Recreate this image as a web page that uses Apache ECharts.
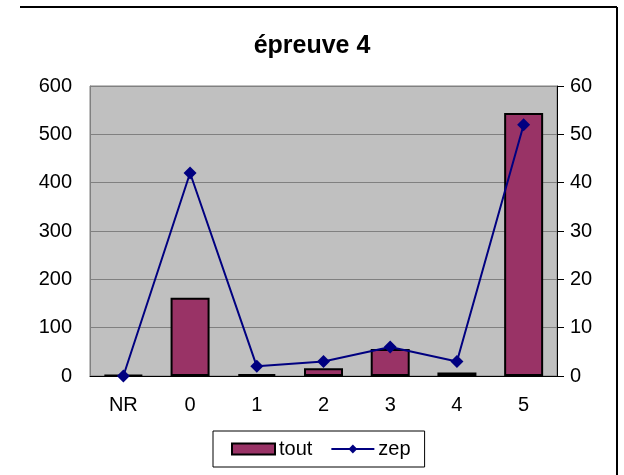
<!DOCTYPE html>
<html>
<head>
<meta charset="utf-8">
<script src="https://cdn.jsdelivr.net/npm/echarts@6/dist/echarts.min.js"></script>
<style>
  html, body { margin: 0; padding: 0; background: #fff; }
  #chart { width: 624px; height: 475px; }
</style>
</head>
<body>
<div id="chart"></div>
<script>
// data
const categories = ['NR', '0', '1', '2', '3', '4', '5']
const toutValues = [2, 162, 4, 16, 56, 7, 544]
const zepValues = [0, 42, 2, 3, 6, 3, 52]
const leftTicks = [0, 600, 100]
const rightTicks = [0, 60, 10]

const font = 'Liberation Sans, Arial, sans-serif'

const chart = echarts.init(document.getElementById('chart'))
chart.setOption({
  backgroundColor: '#fff',
  animation: false,
  title: {
    text: 'épreuve 4',
    left: 'center',
    top: 29,
    textStyle: { fontFamily: font, fontSize: 25, fontWeight: 'bold', color: '#000' }
  },
  grid: {
    left: 90,
    right: 67,
    top: 86,
    bottom: 99,
    show: true,
    backgroundColor: '#c0c0c0',
    borderColor: '#808080',
    borderWidth: 1
  },
  legend: {
    left: 213,
    top: 431,
    padding: [8, 14, 8, 18],
    itemGap: 18,
    itemWidth: 43,
    itemHeight: 11,
    borderColor: '#000',
    borderWidth: 1,
    textStyle: { fontFamily: font, fontSize: 20, color: '#000', padding: [0, 0, 0, -1] },
    data: [{ name: 'tout', icon: 'rect' }, 'zep']
  },
  xAxis: {
    type: 'category',
    data: categories,
    axisLine: { lineStyle: { color: '#000', width: 1 } },
    axisTick: { show: false },
    axisLabel: { fontFamily: font, fontSize: 20, color: '#000', margin: 19 }
  },
  yAxis: [
    {
      type: 'value',
      min: leftTicks[0],
      max: leftTicks[1],
      interval: leftTicks[2],
      axisLine: { show: true, lineStyle: { color: '#808080' } },
      axisTick: { show: false },
      splitLine: { lineStyle: { color: '#808080', width: 1 } },
      axisLabel: { fontFamily: font, fontSize: 20, color: '#000', margin: 18 }
    },
    {
      type: 'value',
      min: rightTicks[0],
      max: rightTicks[1],
      interval: rightTicks[2],
      axisLine: { show: true, lineStyle: { color: '#000' } },
      axisTick: { show: true, length: 7, lineStyle: { color: '#000' } },
      splitLine: { show: false },
      axisLabel: { fontFamily: font, fontSize: 20, color: '#000', margin: 13 }
    }
  ],
  series: [
    {
      name: 'tout',
      type: 'bar',
      data: toutValues,
      barWidth: 39,
      itemStyle: { color: '#993366', borderColor: '#000', borderWidth: 2 }
    },
    {
      name: 'zep',
      type: 'line',
      yAxisIndex: 1,
      data: zepValues,
      symbol: 'diamond',
      symbolSize: 13,
      lineStyle: { color: '#000080', width: 2 },
      itemStyle: { color: '#000080' }
    }
  ],
  graphic: [
    { type: 'line', shape: { x1: 20, y1: 7, x2: 617, y2: 7 }, style: { stroke: '#000', lineWidth: 2 } },
    { type: 'line', shape: { x1: 617, y1: 7, x2: 617, y2: 475 }, style: { stroke: '#000', lineWidth: 2 } }
  ]
})
</script>
</body>
</html>
